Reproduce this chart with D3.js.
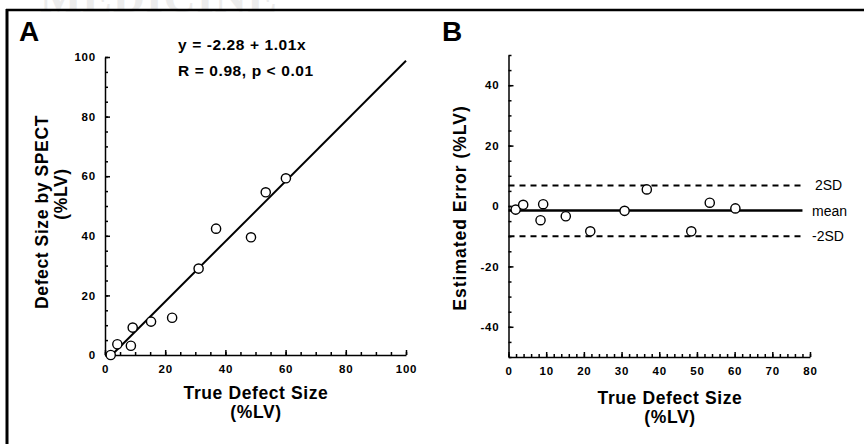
<!DOCTYPE html>
<html>
<head>
<meta charset="utf-8">
<script src="https://cdn.jsdelivr.net/npm/d3@7"></script>
<style>
  body { margin: 0; background: #fff; }
  svg { display: block; font-family: "Liberation Sans", Arial, Helvetica, sans-serif; }
  .axis path, .axis line { stroke: #000; stroke-width: 1.5; }
  .axis text { font-size: 11.5px; font-weight: bold; fill: #000; letter-spacing: 0.8px; font-family: "Liberation Sans", Arial, sans-serif; }
  .title { font-size: 17.5px; font-weight: bold; letter-spacing: 0.6px; }
</style>
</head>
<body>
<div id="chart"></div>
<script>
// data, panel A (SPECT vs true size)
var trueA  = [1.9, 4.1, 8.6, 9.2, 15.3, 22.3, 31.1, 36.9, 48.5, 53.4, 60.1];
var spectA = [0, 3.6, 3.1, 9.2, 11.2, 12.5, 29.0, 42.4, 39.5, 54.6, 59.3];
var fitIntercept = -2.28, fitSlope = 1.01;
var fitRange = [2.26, 100];

// data, panel B (estimated error)
var trueB  = [1.9, 3.9, 8.5, 9.2, 15.2, 21.7, 30.8, 36.7, 48.5, 53.4, 60.2];
var errorB = [-1.2, 0.4, -4.7, 0.6, -3.4, -8.4, -1.6, 5.5, -8.4, 1.1, -0.8];
var refNames  = ["2SD", "mean", "-2SD"];
var refValues = [6.8, -1.5, -10.0];
var refEnd = 78;

var ticksA = [0, 20, 40, 60, 80, 100];
var ticksBx = [0, 10, 20, 30, 40, 50, 60, 70, 80];
var ticksBy = [-40, -20, 0, 20, 40];

var width = 864, height = 444;
var plain = function(d) { return String(d); }; // hyphen minus, like the original

var svg = d3.select("#chart").append("svg")
  .attr("width", width)
  .attr("height", height);

// faint watermark at the top
svg.append("text")
  .attr("x", 40).attr("y", 12)
  .style("font-family", "'Liberation Serif', 'DejaVu Serif', serif")
  .style("font-size", "44px")
  .style("font-weight", "bold")
  .style("letter-spacing", "1px")
  .attr("fill", "#ececec")
  .text("MEDICINE");

// frame
svg.append("line").attr("x1", 6).attr("x2", width).attr("y1", 10).attr("y2", 10)
  .attr("stroke", "#000").attr("stroke-width", 2.5);
svg.append("line").attr("x1", 7).attr("x2", 7).attr("y1", 9).attr("y2", height)
  .attr("stroke", "#000").attr("stroke-width", 3);

// ---------- panel A ----------
var xA = d3.scaleLinear().domain([0, 100]).range([105, 406]);
var yA = d3.scaleLinear().domain([0, 100]).range([355, 57]);

var gA = svg.append("g");

// minor ticks
gA.append("g").attr("class", "axis").attr("transform", "translate(0," + yA(0) + ")")
  .call(d3.axisBottom(xA).tickValues(d3.range(0, 101, 5)).tickSize(-3).tickFormat(""))
  .select(".domain").remove();
gA.append("g").attr("class", "axis").attr("transform", "translate(" + xA(0) + ",0)")
  .call(d3.axisLeft(yA).tickValues(d3.range(0, 101, 5)).tickSize(-3).tickFormat(""))
  .select(".domain").remove();

gA.append("g").attr("class", "axis").attr("transform", "translate(0," + yA(0) + ")")
  .call(d3.axisBottom(xA).tickValues(ticksA).tickSize(-5).tickSizeOuter(0).tickPadding(10).tickFormat(plain));
gA.append("g").attr("class", "axis").attr("transform", "translate(" + xA(0) + ",0)")
  .call(d3.axisLeft(yA).tickValues(ticksA).tickSize(-5).tickSizeOuter(0).tickPadding(9).tickFormat(plain));

// regression line
var fitLine = d3.line()
  .x(function(d) { return xA(d); })
  .y(function(d) { return yA(fitIntercept + fitSlope * d); });
gA.append("path")
  .datum(fitRange)
  .attr("d", fitLine)
  .attr("fill", "none")
  .attr("stroke", "#000")
  .attr("stroke-width", 2);

gA.selectAll(".dotA")
  .data(trueA)
.enter().append("circle")
  .attr("class", "dotA")
  .attr("cx", function(d) { return xA(d); })
  .attr("cy", function(d, i) { return yA(spectA[i]); })
  .attr("r", 4.6)
  .attr("fill", "#fff")
  .attr("stroke", "#000")
  .attr("stroke-width", 1.4);

// labels A
svg.append("text").attr("x", 19).attr("y", 41)
  .style("font-size", "28px").style("font-weight", "bold").text("A");
svg.append("text").attr("x", 178).attr("y", 50)
  .style("font-size", "15.5px").style("font-weight", "bold").style("letter-spacing", "0.6px")
  .text("y = -2.28 + 1.01x");
svg.append("text").attr("x", 178).attr("y", 76)
  .style("font-size", "15.5px").style("font-weight", "bold").style("letter-spacing", "0.6px")
  .text("R = 0.98, p < 0.01");

svg.append("text").attr("class", "title")
  .attr("transform", "translate(48,212) rotate(-90)")
  .attr("text-anchor", "middle").text("Defect Size by SPECT");
svg.append("text").attr("class", "title")
  .attr("transform", "translate(67,194) rotate(-90)")
  .attr("text-anchor", "middle").text("(%LV)");

svg.append("text").attr("class", "title")
  .attr("x", 256).attr("y", 399).attr("text-anchor", "middle").text("True Defect Size");
svg.append("text").attr("class", "title")
  .attr("x", 256).attr("y", 418).attr("text-anchor", "middle").text("(%LV)");

// ---------- panel B ----------
var xB = d3.scaleLinear().domain([0, 80]).range([508.5, 810]);
var yB = d3.scaleLinear().domain([-50, 50]).range([357, 55]);

var gB = svg.append("g");

gB.append("g").attr("class", "axis").attr("transform", "translate(0," + yB(-50) + ")")
  .call(d3.axisBottom(xB).tickValues(d3.range(0, 81, 2)).tickSize(-3).tickFormat(""))
  .select(".domain").remove();
gB.append("g").attr("class", "axis").attr("transform", "translate(" + xB(0) + ",0)")
  .call(d3.axisLeft(yB).tickValues(d3.range(-50, 51, 5)).tickSize(-3).tickFormat(""))
  .select(".domain").remove();

gB.append("g").attr("class", "axis").attr("transform", "translate(0," + yB(-50) + ")")
  .call(d3.axisBottom(xB).tickValues(ticksBx).tickSize(-5).tickSizeOuter(0).tickPadding(10).tickFormat(plain));
gB.append("g").attr("class", "axis").attr("transform", "translate(" + xB(0) + ",0)")
  .call(d3.axisLeft(yB).tickValues(ticksBy).tickSize(-5).tickSizeOuter(0).tickPadding(9).tickFormat(plain));

// mean and 2SD lines
gB.selectAll(".ref")
  .data(refValues)
.enter().append("line")
  .attr("class", "ref")
  .attr("x1", xB(0))
  .attr("x2", xB(refEnd))
  .attr("y1", function(d) { return yB(d); })
  .attr("y2", function(d) { return yB(d); })
  .attr("stroke", "#000")
  .attr("stroke-width", function(d, i) { return i == 1 ? 2.5 : 2; })
  .attr("stroke-dasharray", function(d, i) { return i == 1 ? null : "6,5"; });

gB.selectAll(".refLabel")
  .data(refValues)
.enter().append("text")
  .attr("class", "refLabel")
  .attr("x", function(d, i) { return i == 0 ? 815 : 812; })
  .attr("y", function(d) { return yB(d) + 5; })
  .style("font-size", "14px")
  .text(function(d, i) { return refNames[i]; });

gB.selectAll(".dotB")
  .data(trueB)
.enter().append("circle")
  .attr("class", "dotB")
  .attr("cx", function(d) { return xB(d); })
  .attr("cy", function(d, i) { return yB(errorB[i]); })
  .attr("r", 4.6)
  .attr("fill", "#fff")
  .attr("stroke", "#000")
  .attr("stroke-width", 1.4);

// labels B
svg.append("text").attr("x", 442).attr("y", 41)
  .style("font-size", "28px").style("font-weight", "bold").text("B");

svg.append("text").attr("class", "title")
  .attr("transform", "translate(466,208) rotate(-90)")
  .style("letter-spacing", "1px")
  .attr("text-anchor", "middle").text("Estimated Error (%LV)");

svg.append("text").attr("class", "title")
  .attr("x", 670).attr("y", 404).attr("text-anchor", "middle").text("True Defect Size");
svg.append("text").attr("class", "title")
  .attr("x", 670).attr("y", 423).attr("text-anchor", "middle").text("(%LV)");
</script>
</body>
</html>
